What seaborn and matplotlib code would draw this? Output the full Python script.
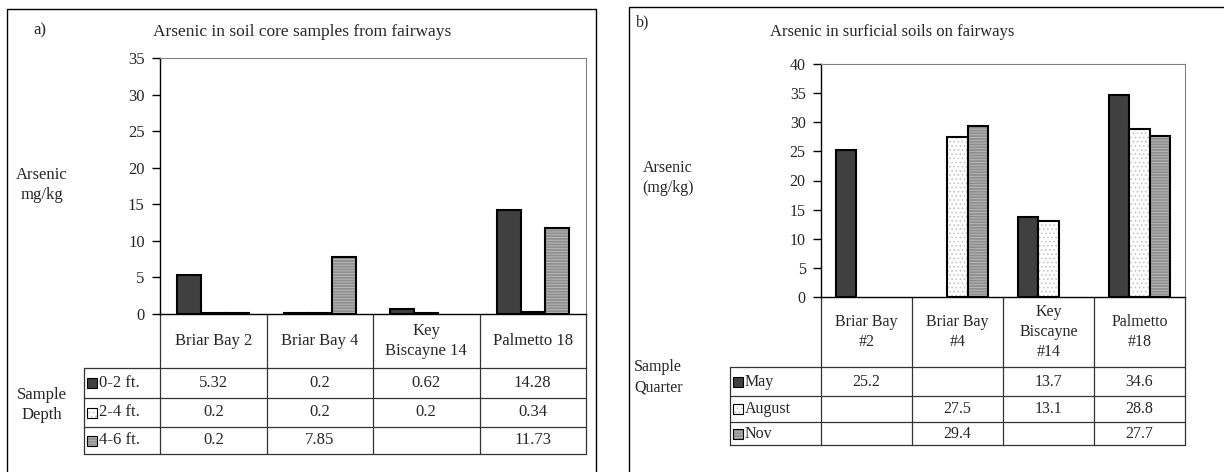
import pandas as pd
import matplotlib.pyplot as plt
import seaborn as sns
from matplotlib.patches import Rectangle
from matplotlib.transforms import blended_transform_factory

sns.set_style("white")
plt.rcParams["font.family"] = ["Liberation Serif", "DejaVu Serif"]
plt.rcParams["hatch.linewidth"] = 0.7

# ------------------------------------------------------------
# Data — panel a) soil core samples
# ------------------------------------------------------------
sites_a = ["Briar Bay 2", "Briar Bay 4", "Key Biscayne 14", "Palmetto 18"]
site_labels_a = ["Briar Bay 2", "Briar Bay 4", "Key\nBiscayne 14", "Palmetto 18"]
depths = ["0-2 ft.", "2-4 ft.", "4-6 ft."]
depth_0_2 = [5.32, 0.2, 0.62, 14.28]
depth_2_4 = [0.2, 0.2, 0.2, 0.34]
depth_4_6 = [0.2, 7.85, None, 11.73]

# ------------------------------------------------------------
# Data — panel b) surficial soils
# ------------------------------------------------------------
sites_b = ["Briar Bay #2", "Briar Bay #4", "Key Biscayne #14", "Palmetto #18"]
site_labels_b = ["Briar Bay\n#2", "Briar Bay\n#4", "Key\nBiscayne\n#14", "Palmetto\n#18"]
quarters = ["May", "August", "Nov"]
may = [25.2, None, 13.7, 34.6]
august = [None, 27.5, 13.1, 28.8]
nov = [None, 29.4, None, 27.7]

# bar styles (dark, white dotted, grey striped)
fills = ["#404040", "#ffffff", "#8f8f8f"]
hatches = ["", "....", "------"]
hatch_cols = ["#404040", "#c4c4c4", "#b8b8b8"]

W, H = 1224, 472
fig = plt.figure(figsize=(W / 100, H / 100), dpi=100)

# overlay in pixel coordinates for boxes, labels and table lines
ov = fig.add_axes([0, 0, 1, 1])
ov.set_xlim(0, W)
ov.set_ylim(H, 0)
ov.axis("off")


def px_axes(x0, y0, x1, y1):
    return fig.add_axes([x0 / W, (H - y1) / H, (x1 - x0) / W, (y1 - y0) / H])


def long_df(sites, names, values):
    rows = []
    for name, vals in zip(names, values):
        for s, v in zip(sites, vals):
            if v is not None:
                rows.append({"site": s, "series": name, "value": v})
    return pd.DataFrame(rows)


def style_bar(p, i):
    p.set_hatch(hatches[i])
    p._hatch_color = plt.matplotlib.colors.to_rgba(hatch_cols[i])


def draw_panel(box, ax_px, sites, labels, names, values, ymax,
               rows_y, leg_left, fs):
    x0, y0, x1, y1 = ax_px
    ax = px_axes(x0, y0, x1, y1)
    df = long_df(sites, names, values)
    sns.barplot(data=df, x="site", y="value", hue="series", order=sites,
                hue_order=names, palette=dict(zip(names, fills)),
                saturation=1, width=0.68, edgecolor="black", linewidth=1.5,
                legend=False, ax=ax)
    for i, cont in enumerate(ax.containers):
        for p in cont:
            style_bar(p, i)

    ax.set_xlim(-0.5, 3.5)
    ax.set_ylim(0, ymax)
    ax.set_yticks(range(0, ymax + 1, 5))
    ax.set_xticks([])
    ax.set_xlabel("")
    ax.set_ylabel("")
    for s in ["left", "bottom"]:
        ax.spines[s].set_color("black")
        ax.spines[s].set_linewidth(1.0)
    for s in ["top", "right"]:
        ax.spines[s].set_color("#808080")
        ax.spines[s].set_linewidth(0.8)
    ax.tick_params(axis="y", left=True, direction="out", length=6,
                   width=1, color="black", labelsize=fs, pad=5)

    # table under the axis
    tr = blended_transform_factory(ax.transData, ov.transData)
    line_kw = dict(color="#333333", lw=0.9)
    for k in range(5):
        ov.plot([k - 0.5, k - 0.5], [y1, rows_y[-1]], transform=tr, **line_kw)
    ov.plot([leg_left, leg_left], [rows_y[0], rows_y[-1]], **line_kw)
    for yy in rows_y:
        ov.plot([leg_left, x0], [yy, yy], **line_kw)
        ov.plot([-0.5, 3.5], [yy, yy], transform=tr, **line_kw)

    for k, lab in enumerate(labels):
        ov.text(k, (y1 + rows_y[0]) / 2, lab, transform=tr, ha="center",
                va="center", fontsize=fs, linespacing=1.3)
    for r, (name, vals) in enumerate(zip(names, values)):
        ym = (rows_y[r] + rows_y[r + 1]) / 2
        sq = Rectangle((leg_left + 3, ym - 5), 10, 10, facecolor=fills[r],
                       edgecolor="black", lw=0.8, hatch=hatches[r])
        sq._hatch_color = plt.matplotlib.colors.to_rgba(hatch_cols[r])
        ov.add_patch(sq)
        ov.text(leg_left + 15, ym, name, ha="left", va="center", fontsize=fs)
        for k, v in enumerate(vals):
            if v is not None:
                ov.text(k, ym, str(v), transform=tr, ha="center",
                        va="center", fontsize=fs)

    bx, by = box
    ov.add_patch(Rectangle((bx, by), 2000 if bx > 600 else 596 - bx, 600,
                           fill=False, edgecolor="black", lw=1.0))
    return ax


# ------------------------------------------------------------
# Panel a)
# ------------------------------------------------------------
FA = 12
draw_panel((7, 9), (160, 58, 586, 314), sites_a, site_labels_a, depths,
           [depth_0_2, depth_2_4, depth_4_6], 35,
           [368, 398, 427, 454], 84, FA)
ov.text(40, 30, "a)", ha="center", va="center", fontsize=FA)
ov.text(302, 32, "Arsenic in soil core samples from fairways",
        ha="center", va="center", fontsize=FA + 0.5)
ov.text(42, 185, "Arsenic\nmg/kg", ha="center", va="center",
        fontsize=FA, linespacing=1.4)
ov.text(42, 405, "Sample\nDepth", ha="center", va="center",
        fontsize=FA, linespacing=1.4)

# ------------------------------------------------------------
# Panel b)
# ------------------------------------------------------------
FB = 11.5
draw_panel((629, 7), (821, 64, 1185, 297), sites_b, site_labels_b, quarters,
           [may, august, nov], 40,
           [367, 396, 422, 445], 730, FB)
ov.text(643, 22, "b)", ha="center", va="center", fontsize=FB)
ov.text(892, 32, "Arsenic in surficial soils on fairways",
        ha="center", va="center", fontsize=FB + 0.5)
ov.text(668, 178, "Arsenic\n(mg/kg)", ha="center", va="center",
        fontsize=FB, linespacing=1.4)
ov.text(634, 377, "Sample\nQuarter", ha="left", va="center",
        fontsize=FB, linespacing=1.4)

plt.savefig("out.png", dpi=100)
